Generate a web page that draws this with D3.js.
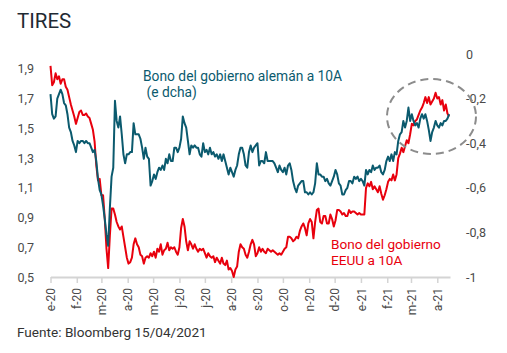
<!DOCTYPE html>
<html>
<head>
<meta charset="utf-8">
<script src="https://cdn.jsdelivr.net/npm/d3@7"></script>
<style>
  body { margin: 0; background: #fff; }
  .canvas text { font-family: 'Roboto', sans-serif; }
</style>
</head>
<body>
<div class="canvas"></div>
<script>
// series are sampled every 2 days from 1 Jan 2020 to 15 Apr 2021
var dates = d3.timeDay.range(new Date(2020, 0, 1), new Date(2021, 3, 17), 2);

// month ticks on the x axis
var tickDates = d3.timeMonth.range(new Date(2020, 0, 1), new Date(2021, 3, 2));
var tickLabels = ["e-20", "f-20", "m-20", "a-20", "m-20", "j-20", "j-20", "a-20",
                  "s-20", "o-20", "n-20", "d-20", "e-21", "f-21", "m-21", "a-21"];

var leftTicks = [0.5, 0.7, 0.9, 1.1, 1.3, 1.5, 1.7, 1.9];
var leftTickLabels = ["0,5", "0,7", "0,9", "1,1", "1,3", "1,5", "1,7", "1,9"];
var rightTicks = [0, -0.2, -0.4, -0.6, -0.8, -1];
var rightTickLabels = ["0", "-0,2", "-0,4", "-0,6", "-0,8", "-1"];

// US 10y (left axis)
var usYield = [
  1.92, 1.79, 1.81, 1.87, 1.83, 1.85, 1.80, 1.83, 1.83, 1.78, 1.76, 1.71, 1.66, 1.62, 1.58, 1.53,
  1.57, 1.61, 1.62, 1.59, 1.59, 1.60, 1.58, 1.57, 1.53, 1.49, 1.41, 1.25, 1.15, 1.16, 1.05, 1.05,
  0.89, 0.69, 0.56, 0.78, 0.96, 0.96, 0.92, 0.87, 0.84, 0.82, 0.84, 0.77, 0.70, 0.63, 0.59, 0.60,
  0.63, 0.72, 0.76, 0.72, 0.70, 0.65, 0.64, 0.59, 0.63, 0.64, 0.63,
  0.66, 0.64, 0.67, 0.63, 0.69, 0.67, 0.72, 0.65, 0.68, 0.69, 0.73, 0.68, 0.70, 0.69, 0.70, 0.67,
  0.65, 0.70, 0.83, 0.89, 0.84, 0.74, 0.68, 0.74, 0.72, 0.69, 0.72, 0.69, 0.67, 0.69, 0.68, 0.69,
  0.66, 0.63, 0.66, 0.64, 0.63, 0.64, 0.60, 0.63, 0.61, 0.59, 0.63, 0.59, 0.58, 0.61, 0.55, 0.56,
  0.54, 0.50, 0.55, 0.57, 0.67, 0.72, 0.70, 0.69, 0.65, 0.63, 0.67, 0.72, 0.75,
  0.72, 0.64, 0.66, 0.70, 0.67, 0.69, 0.67, 0.66, 0.69, 0.68, 0.67, 0.68, 0.67, 0.66, 0.65, 0.66,
  0.65, 0.67, 0.69, 0.70, 0.77, 0.77, 0.76, 0.74, 0.75, 0.77, 0.76, 0.81, 0.84, 0.86, 0.83, 0.78,
  0.86, 0.89, 0.87, 0.76, 0.87, 0.95, 0.96, 0.87, 0.86, 0.91, 0.91, 0.86, 0.86, 0.92, 0.89, 0.84,
  0.88, 0.95, 0.95, 0.94, 0.92, 0.93, 0.91, 0.91, 0.95, 0.93, 0.94, 0.94, 0.93,
  0.92, 0.93, 0.92, 0.92, 0.92, 1.10, 1.13, 1.11, 1.14, 1.09, 1.11, 1.09, 1.07, 1.11, 1.06, 1.02,
  1.05, 1.09, 1.14, 1.16, 1.15, 1.19, 1.15, 1.19, 1.30, 1.33, 1.37, 1.34, 1.38, 1.42, 1.40, 1.46,
  1.53, 1.52, 1.55, 1.56, 1.59, 1.62, 1.64, 1.67, 1.71, 1.67, 1.71, 1.66, 1.68, 1.70, 1.74, 1.70,
  1.71, 1.66, 1.69, 1.62, 1.66, 1.60, 1.58
];

// German 10y (right axis)
var deYield = [
  -0.18, -0.27, -0.29, -0.28, -0.20, -0.18, -0.16, -0.18, -0.22, -0.23, -0.27, -0.33, -0.35, -0.39, -0.41, -0.44,
  -0.39, -0.40, -0.39, -0.39, -0.40, -0.39, -0.40, -0.40, -0.42, -0.44, -0.43, -0.48, -0.56, -0.61, -0.63, -0.68,
  -0.74, -0.81, -0.86, -0.69, -0.55, -0.51, -0.21, -0.30, -0.33, -0.28, -0.36, -0.45, -0.49, -0.45, -0.45, -0.44,
  -0.44, -0.31, -0.36, -0.36, -0.36, -0.38, -0.42, -0.47, -0.42, -0.46, -0.47,
  -0.59, -0.57, -0.54, -0.56, -0.53, -0.51, -0.52, -0.50, -0.52, -0.47, -0.49, -0.45, -0.48, -0.48, -0.42, -0.42,
  -0.44, -0.42, -0.38, -0.28, -0.31, -0.33, -0.39, -0.45, -0.41, -0.42, -0.41, -0.42, -0.42, -0.45, -0.46, -0.40,
  -0.44, -0.43, -0.45, -0.42, -0.45, -0.44, -0.46, -0.45, -0.47, -0.45, -0.48, -0.45, -0.48, -0.51, -0.54, -0.51,
  -0.53, -0.55, -0.52, -0.50, -0.45, -0.42, -0.42, -0.45, -0.50, -0.51, -0.44, -0.41, -0.44,
  -0.42, -0.41, -0.40, -0.50, -0.48, -0.48, -0.49, -0.44, -0.48, -0.48, -0.48, -0.48, -0.49, -0.51, -0.53, -0.50,
  -0.52, -0.53, -0.51, -0.54, -0.50, -0.49, -0.52, -0.57, -0.60, -0.62, -0.59, -0.58, -0.57, -0.57, -0.62, -0.62,
  -0.63, -0.62, -0.63, -0.62, -0.58, -0.49, -0.54, -0.54, -0.55, -0.55, -0.57, -0.56, -0.58, -0.59, -0.57, -0.55,
  -0.52, -0.54, -0.58, -0.59, -0.63, -0.63, -0.61, -0.60, -0.57, -0.57, -0.58, -0.55, -0.56,
  -0.55, -0.57, -0.56, -0.57, -0.59, -0.52, -0.54, -0.52, -0.53, -0.50, -0.52, -0.51, -0.51, -0.50, -0.53, -0.54,
  -0.52, -0.48, -0.46, -0.48, -0.45, -0.48, -0.44, -0.45, -0.39, -0.36, -0.35, -0.30, -0.33, -0.30, -0.24, -0.30,
  -0.27, -0.30, -0.32, -0.31, -0.33, -0.29, -0.27, -0.29, -0.27, -0.30, -0.34, -0.39, -0.35, -0.33, -0.30, -0.32,
  -0.33, -0.31, -0.32, -0.30, -0.30, -0.29, -0.27
];

var red = "#e8000d",
    teal = "#0b5a6e";

var width = 507,
    height = 353;

var svg = d3.select(".canvas")
    .append("svg")
    .attr("width", width)
    .attr("height", height)
    .style("background-color", "#fff");

// scales
var x = d3.scaleTime()
    .domain([new Date(2020, 0, 1), new Date(2021, 3, 16)])
    .range([50.5, 450]);

var yLeft = d3.scaleLinear()
    .domain([0.5, 2.0])
    .range([277, 54]);

var yRight = d3.scaleLinear()
    .domain([-1, 0])
    .range([277, 54]);

// title
svg.append("text")
    .attr("x", 17)
    .attr("y", 28)
    .text("TIRES")
    .style("font-size", "20.5px")
    .style("fill", "#1f2a33");

// X axis
var xAxis = svg.append("g")
    .attr("transform", "translate(0,277)")
    .call(d3.axisBottom(x)
        .tickValues(tickDates)
        .tickFormat(function(d, i) { return tickLabels[i]; })
        .tickSize(6)
        .tickSizeOuter(0));
xAxis.select(".domain").attr("stroke", "#d4d4d4").attr("stroke-width", 2);
xAxis.selectAll(".tick line").attr("stroke", "#d4d4d4").attr("stroke-width", 1.5);
xAxis.selectAll("text")
    .attr("transform", "rotate(-90)")
    .attr("x", -11)
    .attr("y", 0)
    .attr("dy", "0.35em")
    .style("text-anchor", "end")
    .style("font-family", "'Roboto', sans-serif")
    .style("font-size", "12px")
    .style("fill", "#4a4a4a");

// left Y axis
var leftAxis = svg.append("g")
    .attr("transform", "translate(34,0)")
    .call(d3.axisLeft(yLeft)
        .tickValues(leftTicks)
        .tickFormat(function(d, i) { return leftTickLabels[i]; })
        .tickSize(0)
        .tickPadding(0));
leftAxis.select(".domain").remove();
leftAxis.selectAll("text")
    .style("font-family", "'Roboto', sans-serif")
    .style("font-size", "12.5px")
    .style("fill", "#4a4a4a");

// right Y axis
var rightAxis = svg.append("g")
    .attr("transform", "translate(466,0)")
    .call(d3.axisRight(yRight)
        .tickValues(rightTicks)
        .tickFormat(function(d, i) { return rightTickLabels[i]; })
        .tickSize(0)
        .tickPadding(0));
rightAxis.select(".domain").remove();
rightAxis.selectAll("text")
    .style("font-family", "'Roboto', sans-serif")
    .style("font-size", "12.5px")
    .style("fill", "#4a4a4a");

// lines
var usLine = d3.line()
    .x(function(d, i) { return x(dates[i]); })
    .y(function(d) { return yLeft(d); });

var deLine = d3.line()
    .x(function(d, i) { return x(dates[i]); })
    .y(function(d) { return yRight(d); });

svg.append("path")
    .datum(usYield)
    .attr("d", usLine)
    .attr("fill", "none")
    .attr("stroke", red)
    .attr("stroke-width", 2)
    .attr("stroke-linejoin", "round");

svg.append("path")
    .datum(deYield)
    .attr("d", deLine)
    .attr("fill", "none")
    .attr("stroke", teal)
    .attr("stroke-width", 2)
    .attr("stroke-linejoin", "round");

// highlight circle
svg.append("ellipse")
    .attr("cx", 431.5)
    .attr("cy", 116.5)
    .attr("rx", 44.5)
    .attr("ry", 37.5)
    .attr("fill", "none")
    .attr("stroke", "#8c8c8c")
    .attr("stroke-width", 2)
    .attr("stroke-dasharray", "8,5");

// labels
svg.append("text")
    .attr("x", 143)
    .attr("y", 80.5)
    .text("Bono del gobierno alemán a 10A")
    .style("font-size", "13.8px")
    .style("fill", teal);
svg.append("text")
    .attr("x", 143)
    .attr("y", 96.5)
    .text(" (e dcha)")
    .attr("xml:space", "preserve")
    .style("white-space", "pre")
    .style("font-size", "13.8px")
    .style("fill", teal);

svg.append("text")
    .attr("x", 331)
    .attr("y", 248.5)
    .text("Bono del gobierno")
    .style("font-size", "13.6px")
    .style("fill", red);
svg.append("text")
    .attr("x", 331)
    .attr("y", 264.5)
    .text("EEUU a 10A")
    .style("font-size", "13.6px")
    .style("fill", red);

// source
svg.append("text")
    .attr("x", 17)
    .attr("y", 337)
    .text("Fuente: Bloomberg 15/04/2021")
    .style("font-size", "13.6px")
    .style("fill", "#333");
</script>
</body>
</html>
